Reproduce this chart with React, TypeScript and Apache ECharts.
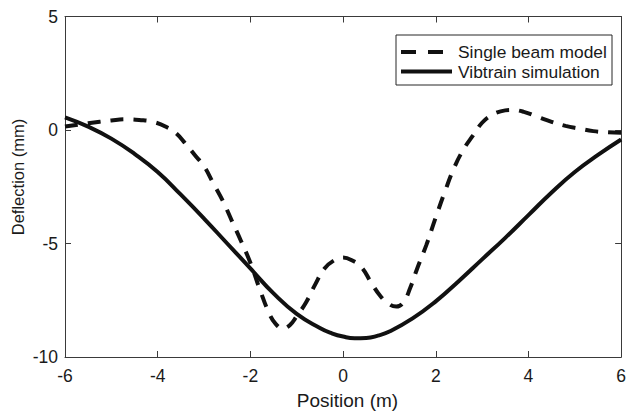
import React, { useEffect, useRef } from "react";
import * as echarts from "echarts";

const beamX = [-6, -5.5, -5, -4.7, -4.4, -4.1, -3.8, -3.6, -3.4, -3.2, -3.0, -2.8, -2.6, -2.4, -2.2, -2.0, -1.8, -1.6, -1.45, -1.3, -1.15, -1.0, -0.8, -0.6, -0.4, -0.2, 0, 0.2, 0.4, 0.6, 0.8, 1.0, 1.15, 1.3, 1.45, 1.6, 1.8, 2.0, 2.2, 2.4, 2.6, 2.8, 3.0, 3.2, 3.4, 3.65, 3.9, 4.2, 4.5, 4.8, 5.1, 5.4, 5.7, 6];
const beamY = [0.15, 0.3, 0.42, 0.47, 0.44, 0.36, 0.12, -0.15, -0.6, -1.1, -1.6, -2.35, -3.1, -4.0, -4.9, -5.85, -7.0, -8.05, -8.55, -8.74, -8.6, -8.2, -7.6, -6.8, -6.1, -5.75, -5.62, -5.75, -6.05, -6.7, -7.3, -7.68, -7.78, -7.6, -6.95, -6.1, -5.05, -3.85, -2.7, -1.65, -0.85, -0.25, 0.32, 0.65, 0.82, 0.88, 0.8, 0.58, 0.36, 0.18, 0.06, -0.05, -0.1, -0.12];

const simX = [-6, -5.5, -5, -4.5, -4, -3.5, -3, -2.5, -2, -1.5, -1, -0.5, -0.25, 0, 0.25, 0.5, 0.75, 1, 1.5, 2, 2.5, 3, 3.5, 4, 4.5, 5, 5.5, 6];
const simY = [0.56, 0.15, -0.38, -1.05, -1.85, -2.85, -3.9, -5.0, -6.1, -7.2, -8.1, -8.72, -8.95, -9.1, -9.17, -9.16, -9.06, -8.88, -8.3, -7.55, -6.65, -5.7, -4.75, -3.75, -2.75, -1.85, -1.1, -0.42];

const xTicks = [-6, -4, -2, 0, 2, 4, 6];
const yTicks = [-10, -5, 0, 5];

const seriesNames = ["Single beam model", "Vibtrain simulation"];
const xTitle = "Position (m)";
const yTitle = "Deflection (mm)";

const FONT = '"Liberation Sans", Arial, Helvetica, sans-serif';
const AXIS = "#3a3a3a";
const TEXT = "#1a1a1a";
const LINE = "#111111";

export default function App() {
  const ref = useRef<HTMLDivElement>(null);

  useEffect(() => {
    if (!ref.current) return;
    const chart = echarts.init(ref.current, undefined, { renderer: "svg" });
    const gridLeft = 65;
    const gridTop = 16.5;
    const gridW = 565;
    const gridH = 340.5;

    const axisCommon = {
      type: "value" as const,
      splitLine: { show: false },
      axisLine: { show: true, onZero: false, lineStyle: { color: AXIS, width: 1 } },
      axisTick: { show: true, inside: true, length: 6, lineStyle: { color: AXIS, width: 1 } },
    };

    const lgX = 396;
    const lgY = 35;

    chart.setOption({
      animation: false,
      backgroundColor: "#ffffff",
      textStyle: { fontFamily: FONT },
      grid: { left: gridLeft, top: gridTop, width: gridW, height: gridH, containLabel: false },
      xAxis: [
        {
          ...axisCommon,
          position: "bottom",
          min: xTicks[0],
          max: xTicks[xTicks.length - 1],
          interval: 2,
          axisLabel: {
            show: true,
            margin: 10,
            fontSize: 17.5,
            color: TEXT,
            fontFamily: FONT,
            formatter: (v: number) => String(v),
          },
        },
        {
          ...axisCommon,
          position: "top",
          min: xTicks[0],
          max: xTicks[xTicks.length - 1],
          interval: 2,
          axisLabel: { show: false },
        },
      ],
      yAxis: [
        {
          ...axisCommon,
          position: "left",
          min: yTicks[0],
          max: yTicks[yTicks.length - 1],
          interval: 5,
          axisLabel: {
            show: true,
            margin: 7,
            fontSize: 17.5,
            color: TEXT,
            fontFamily: FONT,
            formatter: (v: number) => String(v),
          },
        },
        {
          ...axisCommon,
          position: "right",
          min: yTicks[0],
          max: yTicks[yTicks.length - 1],
          interval: 5,
          axisLabel: { show: false },
        },
      ],
      series: [
        {
          name: seriesNames[0],
          type: "line",
          data: beamX.map((x, i) => [x, beamY[i]]),
          symbol: "none",
          showSymbol: false,
          smooth: 0.45,
          clip: true,
          lineStyle: { color: LINE, width: 4, type: [13, 10], cap: "butt" },
          itemStyle: { color: LINE },
          z: 3,
        },
        {
          name: seriesNames[1],
          type: "line",
          data: simX.map((x, i) => [x, simY[i]]),
          symbol: "none",
          showSymbol: false,
          smooth: 0.5,
          clip: true,
          lineStyle: { color: LINE, width: 4, type: "solid" },
          itemStyle: { color: LINE },
          z: 3,
        },
      ],
      graphic: [
        {
          type: "text",
          x: gridLeft + gridW / 2,
          y: 400,
          style: {
            text: xTitle,
            font: `19px ${FONT}`,
            fill: TEXT,
            textAlign: "center",
            textVerticalAlign: "middle",
          },
        },
        {
          type: "text",
          x: 17.5,
          y: 177,
          rotation: Math.PI / 2,
          style: {
            text: yTitle,
            font: `16.5px ${FONT}`,
            fill: TEXT,
            textAlign: "center",
            textVerticalAlign: "middle",
          },
        },
        {
          type: "group",
          x: lgX,
          y: lgY,
          z: 10,
          children: [
            {
              type: "rect",
              shape: { x: 0, y: 0, width: 216, height: 50 },
              style: { fill: "#ffffff", stroke: "#262626", lineWidth: 1 },
            },
            {
              type: "line",
              shape: { x1: 5, y1: 17, x2: 52, y2: 17 },
              style: { stroke: LINE, lineWidth: 4, lineDash: [15, 12] },
            },
            {
              type: "line",
              shape: { x1: 5, y1: 36.5, x2: 56, y2: 36.5 },
              style: { stroke: LINE, lineWidth: 4 },
            },
            {
              type: "text",
              x: 62,
              y: 17,
              style: {
                text: seriesNames[0],
                font: `17.4px ${FONT}`,
                fill: TEXT,
                textAlign: "left",
                textVerticalAlign: "middle",
              },
            },
            {
              type: "text",
              x: 62,
              y: 36.5,
              style: {
                text: seriesNames[1],
                font: `17.4px ${FONT}`,
                fill: TEXT,
                textAlign: "left",
                textVerticalAlign: "middle",
              },
            },
          ],
        },
      ],
    });

    return () => {
      chart.dispose();
    };
  }, []);

  return (
    <div
      ref={ref}
      style={{ position: "fixed", left: 0, top: 0, width: 629, height: 412, background: "#fff" }}
    />
  );
}
